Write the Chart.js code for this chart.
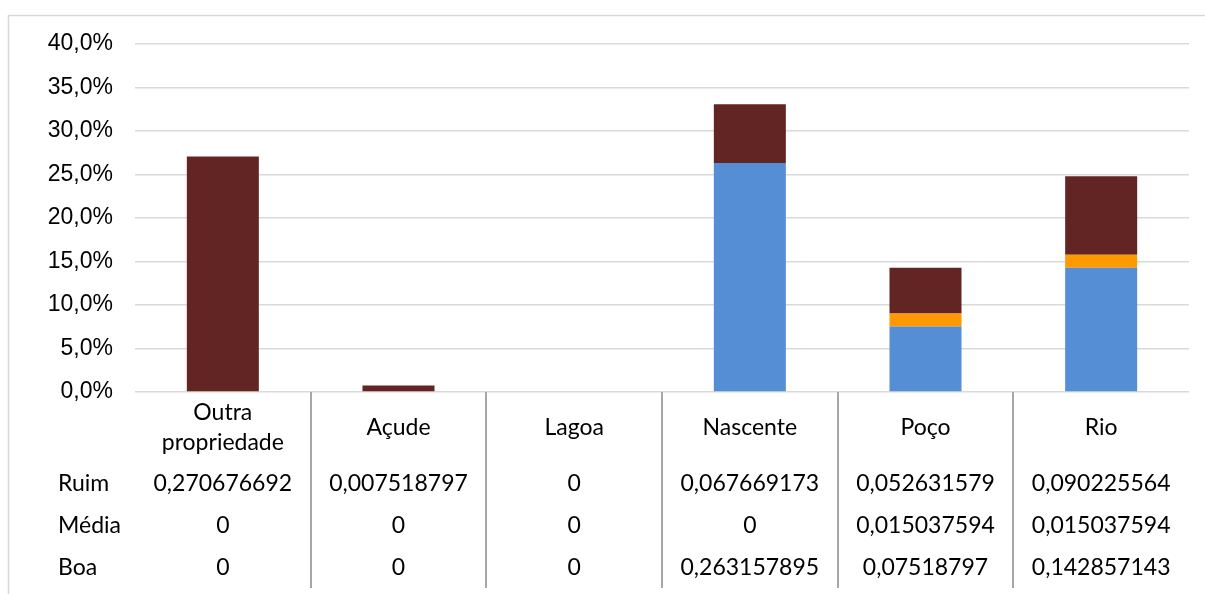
<!DOCTYPE html>
<html>
<head>
<meta charset="utf-8">
<script src="https://cdn.jsdelivr.net/npm/chart.js@4"></script>
<style>
  body { margin: 0; background: #fff; }
  canvas { display: block; }
</style>
</head>
<body>
<canvas id="chart" width="1205" height="594"></canvas>
<script>
// categorias (linhas de cada rótulo)
const categorias = [["Outra", "propriedade"], ["Açude"], ["Lagoa"], ["Nascente"], ["Poço"], ["Rio"]];
const series = ["Ruim", "Média", "Boa"];
const ruim = [0.270676692, 0.007518797, 0, 0.067669173, 0.052631579, 0.090225564];
const media = [0, 0, 0, 0, 0.015037594, 0.015037594];
const boa = [0, 0, 0, 0.263157895, 0.07518797, 0.142857143];

const fonteTabela = "23px Lato";

function numero(v) {
    return String(v).replace(".", ",");
}

// desenha moldura, rótulos das categorias e a tabela de dados
const tabelaPlugin = {
    id: "tabela",
    afterDraw(chart) {
        const ctx = chart.ctx;
        const x = chart.scales.x;
        const area = chart.chartArea;
        const n = categorias.length;
        ctx.save();

        ctx.strokeStyle = "#d9d9d9";
        ctx.lineWidth = 1.5;
        ctx.strokeRect(8.5, 15.5, 1210, 600);

        // divisórias entre categorias
        ctx.strokeStyle = "#a6a6a6";
        ctx.lineWidth = 2;
        for (let i = 0; i < n - 1; i++) {
            const px = Math.round((x.getPixelForValue(i) + x.getPixelForValue(i + 1)) / 2);
            ctx.beginPath();
            ctx.moveTo(px, area.bottom);
            ctx.lineTo(px, 588);
            ctx.stroke();
        }

        ctx.fillStyle = "#000";
        ctx.font = fonteTabela;
        ctx.textAlign = "center";
        ctx.textBaseline = "middle";
        categorias.forEach((linhas, i) => {
            const px = x.getPixelForValue(i);
            const y0 = 428 - (linhas.length - 1) * 15;
            linhas.forEach((l, j) => ctx.fillText(l, px, y0 + j * 30));
        });

        const linhas = [ruim, media, boa];
        const ys = [484, 526, 568];
        linhas.forEach((vals, r) => {
            ctx.textAlign = "left";
            ctx.fillText(series[r], 58, ys[r]);
            ctx.textAlign = "center";
            vals.forEach((v, i) => ctx.fillText(numero(v), x.getPixelForValue(i), ys[r]));
        });
        ctx.restore();
    }
};

new Chart(document.getElementById("chart"), {
    type: "bar",
    data: {
        labels: categorias.map(c => c.join(" ")),
        datasets: [
            { label: "Boa", data: boa, backgroundColor: "#558ed5" },
            { label: "Média", data: media, backgroundColor: "#ff9900" },
            { label: "Ruim", data: ruim, backgroundColor: "#632523" }
        ]
    },
    options: {
        responsive: false,
        animation: false,
        layout: { padding: { top: 44, right: 16, left: 0, bottom: 0 } },
        datasets: { bar: { categoryPercentage: 1, barPercentage: 0.41 } },
        plugins: { legend: { display: false }, tooltip: { enabled: false } },
        scales: {
            x: {
                stacked: true,
                grid: { display: false },
                border: { display: false },
                ticks: { display: false },
                afterFit: s => { s.height = 202; }
            },
            y: {
                stacked: true,
                min: 0,
                max: 0.4,
                ticks: {
                    stepSize: 0.05,
                    padding: 22,
                    color: "#000",
                    font: { family: "Liberation Sans", size: 23 },
                    callback: v => (v * 100).toFixed(1).replace(".", ",") + "%"
                },
                grid: { color: "#d9d9d9", lineWidth: 1.5, drawTicks: false },
                border: { display: false },
                afterFit: s => { s.width = 135; }
            }
        }
    },
    plugins: [tabelaPlugin]
});
</script>
</body>
</html>
